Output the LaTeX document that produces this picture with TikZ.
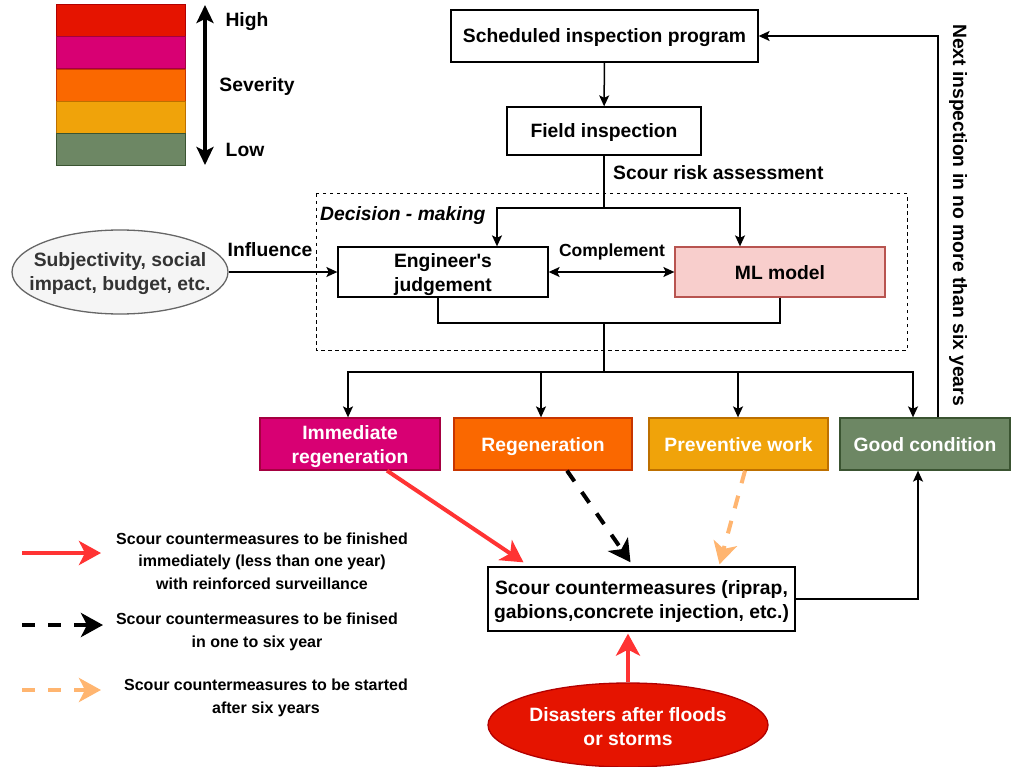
\documentclass[tikz,border=0pt]{standalone}
\usepackage{fontspec}
\setmainfont{Liberation Sans}
\usetikzlibrary{arrows.meta,shapes.geometric}

\definecolor{cRed}{HTML}{E51400}\definecolor{cRedD}{HTML}{B20000}
\definecolor{cMag}{HTML}{D80073}\definecolor{cMagD}{HTML}{A50040}
\definecolor{cOra}{HTML}{FA6800}\definecolor{cOraD}{HTML}{C73500}
\definecolor{cAmb}{HTML}{F0A30A}\definecolor{cAmbD}{HTML}{BD7000}
\definecolor{cGrn}{HTML}{6D8764}\definecolor{cGrnD}{HTML}{3A5431}
\definecolor{cPink}{HTML}{F8CECC}\definecolor{cPinkD}{HTML}{B85450}
\definecolor{cGray}{HTML}{F5F5F5}\definecolor{cGrayD}{HTML}{666666}
\definecolor{cTxt}{HTML}{333333}
\definecolor{cArrRed}{HTML}{FF3333}
\definecolor{cPeach}{HTML}{FFB570}

\newcommand\myfs[2]{\fontsize{#1}{#2}\selectfont}

\tikzset{
  x=1pt, y=-1pt,
  box/.style={draw, line width=1.3pt, fill=white, align=center, inner sep=0pt,
    font=\bfseries\myfs{19.3}{24}},
  sev/.style={draw, line width=1pt, minimum width=129pt, minimum height=32pt, inner sep=0pt},
  lbl/.style={font=\bfseries\myfs{19.3}{24}, inner sep=0pt, align=center},
  one/.style={text height=14pt, text depth=0pt},
  leg/.style={font=\bfseries\myfs{16}{22.5}, inner sep=0pt, align=center},
  conn/.style={line width=1.5pt},
  arr/.style={conn, -{Stealth[length=11pt,width=10pt,inset=2.5pt]}},
  dbl/.style={conn, {Stealth[length=11pt,width=10pt,inset=2.5pt]}-{Stealth[length=11pt,width=10pt,inset=2.5pt]}},
  bigtip/.style={-{Stealth[length=22pt,width=24pt,inset=6pt]}},
  redarr/.style={line width=4pt, draw=cArrRed, bigtip},
  blkdash/.style={line width=4pt, draw=black, dash pattern=on 13pt off 13pt, bigtip},
  peachdash/.style={line width=4pt, draw=cPeach, dash pattern=on 13pt off 13pt, bigtip},
}

\begin{document}
\begin{tikzpicture}
\useasboundingbox (0,0) rectangle (1011,767);

% severity scale
\node[sev, fill=cRed, draw=cRedD] (s1) at (120.5,21) {};
\node[sev, fill=cMag, draw=cMagD] (s2) at (120.5,53) {};
\node[sev, fill=cOra, draw=cOraD] (s3) at (120.5,85.5) {};
\node[sev, fill=cAmb, draw=cAmbD] (s4) at (120.5,118) {};
\node[sev, fill=cGrn, draw=cGrnD] (s5) at (120.5,150) {};
\coordinate (sevtop) at (205,5);
\coordinate (sevbot) at (205,165);
\draw[line width=3.3pt, {Stealth[length=18pt,width=17pt,inset=4pt]}-{Stealth[length=18pt,width=17pt,inset=4pt]}] (sevtop) -- (sevbot);
\node[lbl, one] (high) at (247,20) {High};
\node[lbl, one] (sevl) at (257,85) {Severity};
\node[lbl, one] (low) at (245,150) {Low};

% inspection loop
\node[box, one, minimum width=307pt, minimum height=52pt] (sched) at (604.5,36) {Scheduled inspection program};
\node[box, one, minimum width=194pt, minimum height=48pt] (field) at (604,131) {Field inspection};
\draw[arr] (sched) -- (field);
\node[lbl, one, anchor=west] (risk) at (613,173) {Scour risk assessment};

% decision-making group
\draw[line width=1pt, dash pattern=on 3.5pt off 3.5pt] (316,194) rectangle (907,350);
\node[lbl, one, anchor=west, font=\bfseries\itshape\myfs{19.3}{24}] (dm) at (320,214) {Decision - making};

\node[box, minimum width=210pt, minimum height=50pt] (eng) at (443,272) {};
\node[lbl] (engtxt) at ([yshift=-3pt]eng.center) {Engineer\textquotesingle s\\judgement};
\node[box, one, fill=cPink, draw=cPinkD, minimum width=210pt, minimum height=50pt] (ml) at (780,272) {ML model};

\coordinate (split) at (604,208);
\draw[conn] (field) -- (split);
\draw[arr] (split) -| ([xshift=54pt]eng.north);
\draw[arr] (split) -| ([xshift=-40pt]ml.north);
\draw[dbl] (eng) -- (ml);
\node[lbl, one, font=\bfseries\myfs{17.5}{22}] (compl) at (612,250) {Complement};

\node[ellipse, draw=cGrayD, fill=cGray, line width=1.3pt, minimum width=216pt, minimum height=84pt,
  inner sep=0pt] (subj) at (120,272) {};
\node[lbl, text=cTxt] (subjtxt) at ([yshift=-2pt]subj.center) {Subjectivity, social\\impact, budget, etc.};
\draw[arr] (subj) -- (eng);
\node[lbl, one] (infl) at (270,249) {Influence};

\coordinate (merge) at (604,323);
\coordinate (fan) at (604,372);
\draw[conn] ([xshift=-5pt]eng.south) |- (merge);
\draw[conn] (ml.south) |- (merge);
\draw[conn] (merge) -- (fan);

% outcome classes
\node[box, fill=cMag, draw=cMagD, minimum width=180pt, minimum height=52pt] (imm) at (350,444) {};
\node[lbl, text=white] (immtxt) at ([yshift=-3pt]imm.center) {Immediate\\regeneration};
\node[box, one, text=white, fill=cOra, draw=cOraD, minimum width=178pt, minimum height=52pt] (regen) at (543,444) {Regeneration};
\node[box, one, text=white, fill=cAmb, draw=cAmbD, minimum width=179pt, minimum height=52pt] (prev) at (738.5,444) {Preventive work};
\node[box, one, text=white, fill=cGrn, draw=cGrnD, minimum width=170pt, minimum height=52pt] (good) at (925,444) {Good condition};

\draw[arr] (fan) -| ([xshift=-2pt]imm.north);
\draw[arr] (fan) -| ([xshift=-2pt]regen.north);
\draw[arr] (fan) -| ([xshift=-0.5pt]prev.north);
\draw[arr] (fan) -| ([xshift=-12pt]good.north);

\draw[arr] ([xshift=13pt]good.north) |- (sched.east);
\node[lbl, one, rotate=-90] (next) at (960,215) {Next inspection in no more than six years};

% countermeasures
\node[box, minimum width=307pt, minimum height=64pt] (scour) at (641.5,599) {};
\node[lbl] (scourtxt) at ([yshift=-3pt]scour.center) {Scour countermeasures (riprap,\\gabions,concrete injection, etc.)};
\draw[arr] (scour.east) -| ([xshift=-7pt]good.south);

\draw[redarr] ([xshift=37pt]imm.south) -- ([xshift=-118pt,yshift=4pt]scour.north);
\draw[blkdash] ([xshift=24pt]regen.south) -- ([xshift=-11pt,yshift=4pt]scour.north);
\draw[peachdash] ([xshift=6.5pt]prev.south) -- ([xshift=78pt,yshift=2pt]scour.north);

\node[ellipse, draw=cRedD, fill=cRed, line width=1.3pt, minimum width=280pt, minimum height=84pt,
  inner sep=0pt] (dis) at (628,725) {};
\node[lbl, text=white] (distxt) at ([yshift=-2pt]dis.center) {Disasters after floods\\or storms};
\draw[redarr] (dis.north) -- ([yshift=-2pt]dis.north |- scour.south);

% arrow legend
\coordinate (l1a) at (22,553); \coordinate (l1b) at (101,553);
\coordinate (l2a) at (22,625); \coordinate (l2b) at (103,625);
\coordinate (l3a) at (22,690); \coordinate (l3b) at (101,690);
\draw[redarr] (l1a) -- (l1b);
\draw[blkdash] (l2a) -- (l2b);
\draw[peachdash] (l3a) -- (l3b);
\node[leg] (t1) at (262,561) {Scour countermeasures to be finished\\immediately (less than one year)\\with reinforced surveillance};
\node[leg] (t2) at (257,632) {Scour countermeasures to be finised\\in one to six year};
\node[leg] (t3) at (266,698) {Scour countermeasures to be started\\after six years};
\end{tikzpicture}
\end{document}
